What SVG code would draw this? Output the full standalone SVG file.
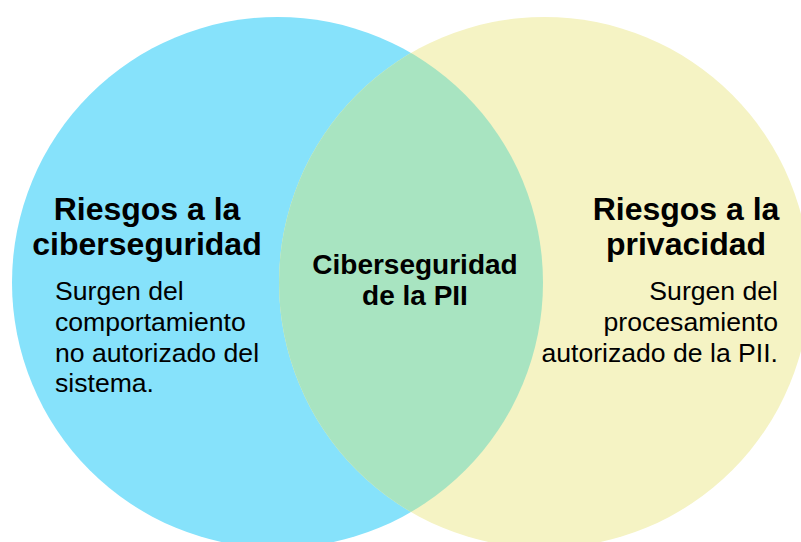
<svg xmlns="http://www.w3.org/2000/svg" width="801" height="542" viewBox="0 0 801 542">
<style>
.t{font-family:"Liberation Sans",Arial,sans-serif;fill:#000}
.h{font-weight:bold;font-size:32px}
.c{font-weight:bold;font-size:28px}
.b{font-size:26.6px}
</style>
<defs>
<clipPath id="clipL"><circle cx="277.5" cy="282.5" r="265.5"/></clipPath>
</defs>
<rect width="801" height="542" fill="#fff"/>
<g id="cyber">
<circle cx="277.5" cy="282.5" r="265.5" fill="#86E2FB"/>
</g>
<g id="privacy">
<circle cx="544.5" cy="282.5" r="265.5" fill="#F5F3C4"/>
</g>
<g id="overlap">
<circle cx="544.5" cy="282.5" r="265.5" fill="#A8E4C1" clip-path="url(#clipL)"/>
</g>
<g id="cyber-text">
<text class="t h" x="147" y="220" text-anchor="middle">Riesgos a la</text>
<text class="t h" x="147" y="255" text-anchor="middle">ciberseguridad</text>
<text class="t b" x="55" y="300">Surgen del</text>
<text class="t b" x="55" y="331">comportamiento</text>
<text class="t b" x="55" y="362">no autorizado del</text>
<text class="t b" x="55" y="392">sistema.</text>
</g>
<g id="privacy-text">
<text class="t h" x="686" y="220" text-anchor="middle">Riesgos a la</text>
<text class="t h" x="686" y="255" text-anchor="middle">privacidad</text>
<text class="t b" x="778" y="300" text-anchor="end">Surgen del</text>
<text class="t b" x="778" y="331" text-anchor="end">procesamiento</text>
<text class="t b" x="778" y="362" text-anchor="end">autorizado de la PII.</text>
</g>
<g id="overlap-text">
<text class="t c" x="415" y="274" text-anchor="middle">Ciberseguridad</text>
<text class="t c" x="415" y="305" text-anchor="middle">de la PII</text>
</g>
<g id="connectors"/>
</svg>
